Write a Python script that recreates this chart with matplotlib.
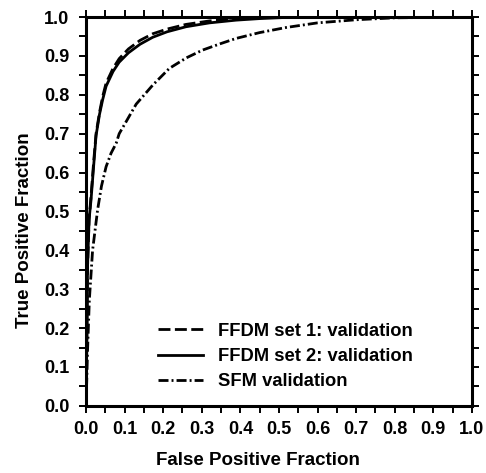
import matplotlib.pyplot as plt
from matplotlib.ticker import MultipleLocator, FormatStrFormatter

# ROC curves
fpf_set1 = [0, 0.002, 0.004, 0.008, 0.013, 0.02, 0.026, 0.035, 0.043, 0.052, 0.07, 0.086,
            0.11, 0.14, 0.173, 0.21, 0.259, 0.32, 0.389, 0.45, 0.52, 0.6, 0.7, 1.0]
tpf_set1 = [0, 0.16, 0.36, 0.48, 0.54, 0.63, 0.70, 0.755, 0.795, 0.83, 0.868, 0.893,
            0.918, 0.94, 0.957, 0.969, 0.981, 0.99, 0.995, 0.998, 1.0, 1.0, 1.0, 1.0]
fpf_set2 = [0, 0.002, 0.004, 0.008, 0.013, 0.02, 0.026, 0.035, 0.043, 0.052, 0.07, 0.086,
            0.11, 0.14, 0.173, 0.21, 0.259, 0.32, 0.389, 0.45, 0.52, 0.6, 0.7, 1.0]
tpf_set2 = [0, 0.16, 0.36, 0.48, 0.53, 0.62, 0.695, 0.75, 0.787, 0.822, 0.86, 0.884,
            0.908, 0.93, 0.948, 0.962, 0.975, 0.985, 0.992, 0.996, 0.999, 1.0, 1.0, 1.0]
fpf_sfm = [0, 0.002, 0.004, 0.0086, 0.017, 0.03, 0.04, 0.052, 0.065, 0.078, 0.086, 0.104,
           0.13, 0.173, 0.216, 0.26, 0.302, 0.35, 0.389, 0.45, 0.518, 0.6, 0.7, 0.8, 1.0]
tpf_sfm = [0, 0.07, 0.144, 0.272, 0.40, 0.504, 0.565, 0.615, 0.65, 0.675, 0.70, 0.731,
           0.776, 0.825, 0.868, 0.895, 0.915, 0.932, 0.945, 0.96, 0.973, 0.985, 0.993, 0.998, 1.0]

labels = ['FFDM set 1: validation', 'FFDM set 2: validation', 'SFM validation']

plt.rcParams['font.family'] = 'Liberation Sans'
plt.rcParams['font.weight'] = 'bold'

fig = plt.figure(figsize=(4.86, 4.73), dpi=100)
ax = fig.add_axes([0.177, 0.142, 0.794, 0.822])

lw = 2.0
ax.plot(fpf_set1, tpf_set1, color='black', lw=lw, ls=(0, (4.3, 1.6)), label=labels[0])
ax.plot(fpf_set2, tpf_set2, color='black', lw=lw, ls='-', label=labels[1])
ax.plot(fpf_sfm, tpf_sfm, color='black', lw=lw, ls=(0, (3.6, 1.1, 0.7, 1.1)), label=labels[2])

ax.set_xlim(0, 1)
ax.set_ylim(0, 1)
for axis in (ax.xaxis, ax.yaxis):
    axis.set_major_locator(MultipleLocator(0.1))
    axis.set_minor_locator(MultipleLocator(0.05))
    axis.set_major_formatter(FormatStrFormatter('%.1f'))
ax.tick_params(which='both', direction='out', length=5, width=1.4,
               top=True, right=True, labelsize=13)
ax.tick_params(axis='y', pad=7)
ax.tick_params(axis='x', pad=6)
for s in ax.spines.values():
    s.set_linewidth(2.2)

ax.set_xlabel('False Positive Fraction', fontsize=13.5, fontweight='bold')
ax.set_ylabel('True Positive Fraction', fontsize=13.5, fontweight='bold')
ax.xaxis.set_label_coords(0.446, -0.12)
ax.yaxis.set_label_coords(-0.137, 0.452)

ax.legend(loc='upper left', bbox_to_anchor=(0.187, 0.214), frameon=False, fontsize=13.2,
          handlelength=2.46, handletextpad=0.82, labelspacing=0.46,
          borderpad=0, borderaxespad=0)

fig.savefig('out.png', dpi=100)
